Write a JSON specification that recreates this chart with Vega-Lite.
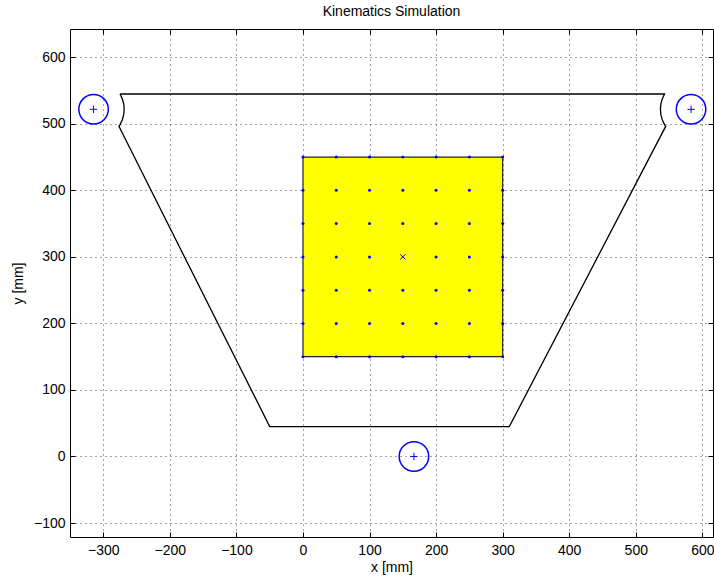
{
  "$schema": "https://vega.github.io/schema/vega-lite/v6.json",
  "width": 643,
  "height": 508,
  "autosize": "none",
  "padding": {"left": 70, "top": 29, "right": 1, "bottom": 41},
  "background": "white",
  "title": {"text": "Kinematics Simulation", "font": "Liberation Sans", "fontSize": 14, "fontWeight": "normal", "color": "black", "offset": 10},
  "config": {
    "view": {"stroke": "black", "strokeWidth": 1},
    "axis": {
      "labelFont": "Liberation Sans", "labelFontSize": 14, "labelColor": "black",
      "titleFont": "Liberation Sans", "titleFontSize": 14, "titleFontWeight": "normal", "titleColor": "black",
      "domain": false, "gridColor": "#444", "gridDash": [1, 4], "gridOpacity": 1, "gridWidth": 1,
      "tickColor": "black", "tickWidth": 1
    }
  },
  "datasets": {
    "outline": [
      {"i": 0, "x": -274.8, "y": 544.8},
      {"i": 1, "x": 543.2, "y": 544.8},
      {"i": 2, "x": 539.8, "y": 537.5},
      {"i": 3, "x": 537.7, "y": 529.8},
      {"i": 4, "x": 537.0, "y": 521.8},
      {"i": 5, "x": 537.7, "y": 513.8},
      {"i": 6, "x": 539.8, "y": 506.1},
      {"i": 7, "x": 543.2, "y": 498.8},
      {"i": 8, "x": 544.9, "y": 496.1},
      {"i": 9, "x": 310.0, "y": 45.0},
      {"i": 10, "x": -50.0, "y": 45.0},
      {"i": 11, "x": -276.5, "y": 496.1},
      {"i": 12, "x": -274.8, "y": 498.8},
      {"i": 13, "x": -271.4, "y": 506.1},
      {"i": 14, "x": -269.3, "y": 513.8},
      {"i": 15, "x": -268.6, "y": 521.8},
      {"i": 16, "x": -269.3, "y": 529.8},
      {"i": 17, "x": -271.4, "y": 537.5},
      {"i": 18, "x": -274.8, "y": 544.8}
    ],
    "platform": [{"x": 0, "x2": 300, "y": 150, "y2": 450}],
    "grid": [
      {"x": 0, "y": 150}, {"x": 50, "y": 150}, {"x": 100, "y": 150}, {"x": 150, "y": 150}, {"x": 200, "y": 150}, {"x": 250, "y": 150}, {"x": 300, "y": 150},
      {"x": 0, "y": 200}, {"x": 50, "y": 200}, {"x": 100, "y": 200}, {"x": 150, "y": 200}, {"x": 200, "y": 200}, {"x": 250, "y": 200}, {"x": 300, "y": 200},
      {"x": 0, "y": 250}, {"x": 50, "y": 250}, {"x": 100, "y": 250}, {"x": 150, "y": 250}, {"x": 200, "y": 250}, {"x": 250, "y": 250}, {"x": 300, "y": 250},
      {"x": 0, "y": 300}, {"x": 50, "y": 300}, {"x": 100, "y": 300}, {"x": 200, "y": 300}, {"x": 250, "y": 300}, {"x": 300, "y": 300},
      {"x": 0, "y": 350}, {"x": 50, "y": 350}, {"x": 100, "y": 350}, {"x": 150, "y": 350}, {"x": 200, "y": 350}, {"x": 250, "y": 350}, {"x": 300, "y": 350},
      {"x": 0, "y": 400}, {"x": 50, "y": 400}, {"x": 100, "y": 400}, {"x": 150, "y": 400}, {"x": 200, "y": 400}, {"x": 250, "y": 400}, {"x": 300, "y": 400},
      {"x": 0, "y": 450}, {"x": 50, "y": 450}, {"x": 100, "y": 450}, {"x": 150, "y": 450}, {"x": 200, "y": 450}, {"x": 250, "y": 450}, {"x": 300, "y": 450}
    ],
    "center": [{"x": 150, "y": 300}],
    "bases": [
      {"x": -314.6, "y": 521.8},
      {"x": 583.0, "y": 521.8},
      {"x": 166.7, "y": 0}
    ]
  },
  "resolve": {"axis": {"x": "independent", "y": "independent"}},
  "layer": [
    {
      "data": {"name": "outline"},
      "mark": {"type": "line", "color": "black", "strokeWidth": 1.3, "clip": true},
      "encoding": {
        "x": {"field": "x", "type": "quantitative", "scale": {"domain": [-350, 616], "nice": false, "zero": false},
              "axis": {"orient": "bottom", "title": "x [mm]", "values": [-300, -200, -100, 0, 100, 200, 300, 400, 500, 600], "ticks": false, "grid": true, "labelPadding": 6, "titlePadding": 3}},
        "y": {"field": "y", "type": "quantitative", "scale": {"domain": [-121, 642.5], "nice": false, "zero": false},
              "axis": {"orient": "left", "title": "y [mm]", "values": [-100, 0, 100, 200, 300, 400, 500, 600], "ticks": false, "grid": true, "labelPadding": 5, "titlePadding": 8}},
        "order": {"field": "i", "type": "quantitative"}
      }
    },
    {
      "data": {"name": "platform"},
      "mark": {"type": "rect", "fill": "#ffff00", "stroke": "#222", "strokeWidth": 1.2},
      "encoding": {
        "x": {"field": "x", "type": "quantitative",
              "axis": {"orient": "top", "title": null, "values": [-300, -200, -100, 0, 100, 200, 300, 400, 500, 600], "labels": false, "grid": false, "tickSize": -5}},
        "x2": {"field": "x2"},
        "y": {"field": "y", "type": "quantitative",
              "axis": {"orient": "right", "title": null, "values": [-100, 0, 100, 200, 300, 400, 500, 600], "labels": false, "grid": false, "tickSize": -5}},
        "y2": {"field": "y2"}
      }
    },
    {
      "data": {"name": "grid"},
      "mark": {"type": "point", "filled": true, "color": "#0000ff", "size": 9, "opacity": 1},
      "encoding": {
        "x": {"field": "x", "type": "quantitative",
              "axis": {"orient": "bottom", "title": null, "values": [-300, -200, -100, 0, 100, 200, 300, 400, 500, 600], "labels": false, "grid": false, "tickSize": -5}},
        "y": {"field": "y", "type": "quantitative",
              "axis": {"orient": "left", "title": null, "values": [-100, 0, 100, 200, 300, 400, 500, 600], "labels": false, "grid": false, "tickSize": -5}}
      }
    },
    {
      "data": {"name": "center"},
      "mark": {"type": "point", "shape": "M-1,-1L1,1M-1,1L1,-1", "filled": false, "stroke": "#0000ff", "strokeWidth": 1, "size": 28, "opacity": 1},
      "encoding": {
        "x": {"field": "x", "type": "quantitative", "axis": null},
        "y": {"field": "y", "type": "quantitative", "axis": null}
      }
    },
    {
      "data": {"name": "bases"},
      "mark": {"type": "point", "shape": "circle", "filled": false, "stroke": "#0000ff", "strokeWidth": 1.5, "size": 870, "opacity": 1},
      "encoding": {
        "x": {"field": "x", "type": "quantitative", "axis": null},
        "y": {"field": "y", "type": "quantitative", "axis": null}
      }
    },
    {
      "data": {"name": "bases"},
      "mark": {"type": "point", "shape": "M-1,0L1,0M0,-1L0,1", "filled": false, "stroke": "#0000ff", "strokeWidth": 1, "size": 53, "opacity": 1},
      "encoding": {
        "x": {"field": "x", "type": "quantitative", "axis": null},
        "y": {"field": "y", "type": "quantitative", "axis": null}
      }
    }
  ]
}
